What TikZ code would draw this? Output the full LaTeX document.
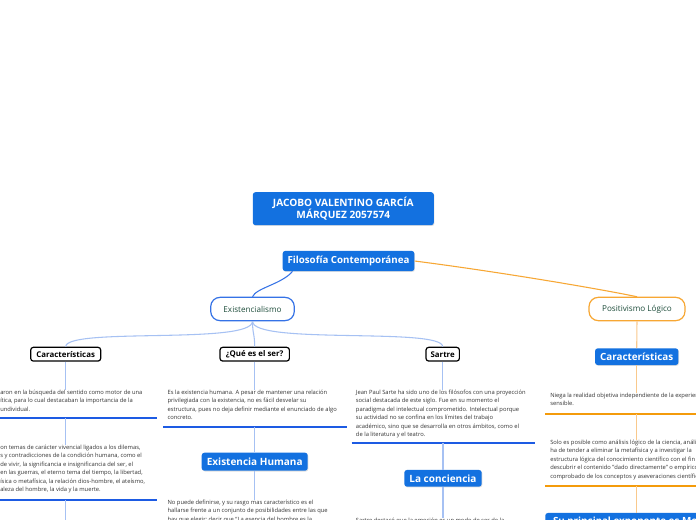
\documentclass[tikz,border=0pt]{standalone}
\usepackage{fontspec}
\setmainfont{Open Sans}
\usetikzlibrary{calc,shadows}
\definecolor{mb}{HTML}{1371E0}
\definecolor{bl}{HTML}{3572E6}
\definecolor{lb}{HTML}{A6C1F3}
\definecolor{sb}{HTML}{1D5BE3}
\definecolor{or}{HTML}{F7A733}
\definecolor{lo}{HTML}{F9C98C}
\definecolor{so}{HTML}{F49B0B}
\definecolor{dkg}{HTML}{1E4D3B}
\definecolor{txt}{HTML}{333333}
\newcommand{\fsz}[2]{\fontsize{#1}{#2}\selectfont}
\tikzset{
  tbox/.style={fill=mb,text=white,rounded corners=2pt,align=center,inner sep=0pt,
    drop shadow={shadow xshift=0.5pt,shadow yshift=-0.6pt,opacity=0.25}},
  pill/.style={draw=#1,fill=white,line width=0.9pt,rounded corners=7pt,text=dkg,
    font=\fsz{6.1}{7},inner sep=0pt,minimum height=17.5pt},
  kbox/.style={draw=black,fill=white,line width=0.9pt,rounded corners=2pt,
    font=\fsz{5.9}{7}\bfseries,inner sep=0pt,minimum height=10.3pt},
  para/.style={anchor=north west,align=left,inner sep=0pt,text=txt,font=\fsz{4.35}{6.3}},
  lnk/.style={draw=#1,line width=0.8pt},
  sep/.style={draw=#1,line width=1.3pt},
}
\begin{document}
\begin{tikzpicture}[x=0.75pt,y=-0.75pt]
\useasboundingbox (0,0) rectangle (696,520);
\clip (0,0) rectangle (696,520);
\fill[white] (0,0) rectangle (696,520);

\node[tbox,font=\fsz{7.6}{9.2}\bfseries,minimum width=135.75pt,minimum height=24.75pt] (name) at (343.3,208.7) {JACOBO VALENTINO GARCÍA\\MÁRQUEZ 2057574};
\node[tbox,font=\fsz{7.3}{8}\bfseries,minimum width=98.7pt,minimum height=15.2pt] (filo) at (348.5,261) {Filosofía Contemporánea};

\node[pill=bl,minimum width=62.7pt] (exis) at (252.5,309) {Existencialismo};
\node[pill=or,minimum width=72pt] (posi) at (637,309) {Positivismo Lógico};

\draw[lnk=bl] ($(filo.south)+(-56,0)$) .. controls (282,284) and (256,288) .. (exis.north);
\draw[lnk=or] (filo.east) .. controls (500,272) and (600,289) .. (posi.north);

\node[kbox,minimum width=52.5pt] (car1) at (65.7,354.2) {Características};
\node[kbox,minimum width=52pt] (ser) at (254.7,354.2) {¿Qué es el ser?};
\node[kbox,minimum width=25pt] (sar) at (442.7,354.2) {Sartre};

\draw[lnk=lb] (exis.south) .. controls (252.5,345) and (65.7,327) .. (car1.north);
\draw[lnk=lb] (exis.south) .. controls (252.5,334) and (254.7,334) .. (ser.north);
\draw[lnk=lb] (exis.south) .. controls (252.5,345) and (442.7,327) .. (sar.north);

\node[para] (t1) at (0,389.8) {aron en la búsqueda del sentido como motor de una\\ítica, para lo cual destacaban la importancia de la\\undividual.};
\node[para] (t2) at (0,444.8) {on temas de carácter vivencial ligados a los dilemas,\\s y contradicciones de la condición humana, como el\\de vivir, la significancia e insignificancia del ser, el\\en las guerras, el eterno tema del tiempo, la libertad,\\ísica o metafísica, la relación dios-hombre, el ateísmo,\\aleza del hombre, la vida y la muerte.};
\coordinate (s1l) at (0,418.3);
\coordinate (s1r) at (157,418.3);
\coordinate (s2l) at (0,500);
\coordinate (s2r) at (157,500);
\coordinate (end1) at (64.3,522);
\draw[lnk=lb] (car1.south) -- (car1.south |- t1.north);
\draw[sep=sb] (s1l) -- (s1r);
\draw[lnk=lb] (s1l -| car1.south) -- (car1.south |- t2.north);
\draw[sep=sb] (s2l) -- (s2r);
\draw[lnk=lb] (s2l -| car1.south) -- (end1 -| car1.south);

\node[para] (t3) at (167.3,389.8) {Es la existencia humana. A pesar de mantener una relación\\privilegiada con la existencia, no es fácil desvelar su\\estructura, pues no deja definir mediante el enunciado de algo\\concreto.};
\coordinate (s3l) at (163.3,426.7);
\coordinate (s3r) at (346.7,426.7);
\node[tbox,font=\fsz{7.5}{8}\bfseries,minimum width=79.5pt,minimum height=13.5pt] (hum) at (254.7,461.7) {Existencia Humana};
\node[para] (t4) at (167.3,499.5) {No puede definirse, y su rasgo mas característico es el\\hallarse frente a un conjunto de posibilidades entre las que\\hay que elegir; decir que “La esencia del hombre es la};
\draw[lnk=lb] (ser.south) -- (ser.south |- t3.north);
\draw[sep=sb] (s3l) -- (s3r);
\draw[lnk=lb] (s3l -| hum.north) -- (hum.north);
\draw[lnk=lb] (hum.south) -- (hum.south |- t4.north);

\node[para] (t5) at (355.7,389.8) {Jean Paul Sarte ha sido uno de los filósofos con una proyección\\social destacada de este siglo. Fue en su momento el\\paradigma del intelectual comprometido. Intelectual porque\\su actividad no se confina en los límites del trabajo\\académico, sino que se desarrolla en otros ámbitos, como el\\de la literatura y el teatro.};
\coordinate (s5l) at (351.7,443.3);
\coordinate (s5r) at (535,443.3);
\node[tbox,font=\fsz{7.5}{8}\bfseries,minimum width=58pt,minimum height=12.5pt] (conc) at (443,478.3) {La conciencia};
\node[para] (t6) at (355.7,517.5) {Sartre destacó que la emoción es un modo de ser de la};
\draw[lnk=lb] (sar.south) -- (sar.south |- t5.north);
\draw[sep=sb] (s5l) -- (s5r);
\draw[lnk=lb] (s5l -| conc.north) -- (conc.north);
\draw[lnk=lb] (conc.south) -- (conc.south |- t6.north);

\node[tbox,font=\fsz{7.4}{8}\bfseries,minimum width=62.5pt,minimum height=12.5pt] (car2) at (636.7,356.7) {Características};
\node[para] (t7) at (550,392.8) {Niega la realidad objetiva independiente de la experiencia\\sensible.};
\node[para] (t8) at (550,439.8) {Solo es posible como análisis lógico de la ciencia, análisis que\\ha de tender a eliminar la metafísica y a investigar la\\estructura lógica del conocimiento científico con el fin de\\descubrir el contenido "dado directamente" o empírico\\comprobado de los conceptos y aseveraciones científicas.};
\coordinate (s7l) at (545,414);
\coordinate (s7r) at (700,414);
\coordinate (s8l) at (545,486);
\coordinate (s8r) at (700,486);
\node[tbox,anchor=north west,font=\fsz{7.4}{8}\bfseries,minimum height=13pt,inner xsep=5.8pt] (expo) at (545,512.7) {Su principal exponente es Moritz Schlick};
\draw[lnk=lo] (posi.south) -- (car2.north);
\draw[lnk=lo] (car2.south) -- (car2.south |- t7.north);
\draw[sep=so] (s7l) -- (s7r);
\draw[lnk=lo] (s7l -| car2.south) -- (car2.south |- t8.north);
\draw[sep=so] (s8l) -- (s8r);
\draw[lnk=lo] (s8l -| car2.south) -- (car2.south |- expo.north);
\end{tikzpicture}
\end{document}
